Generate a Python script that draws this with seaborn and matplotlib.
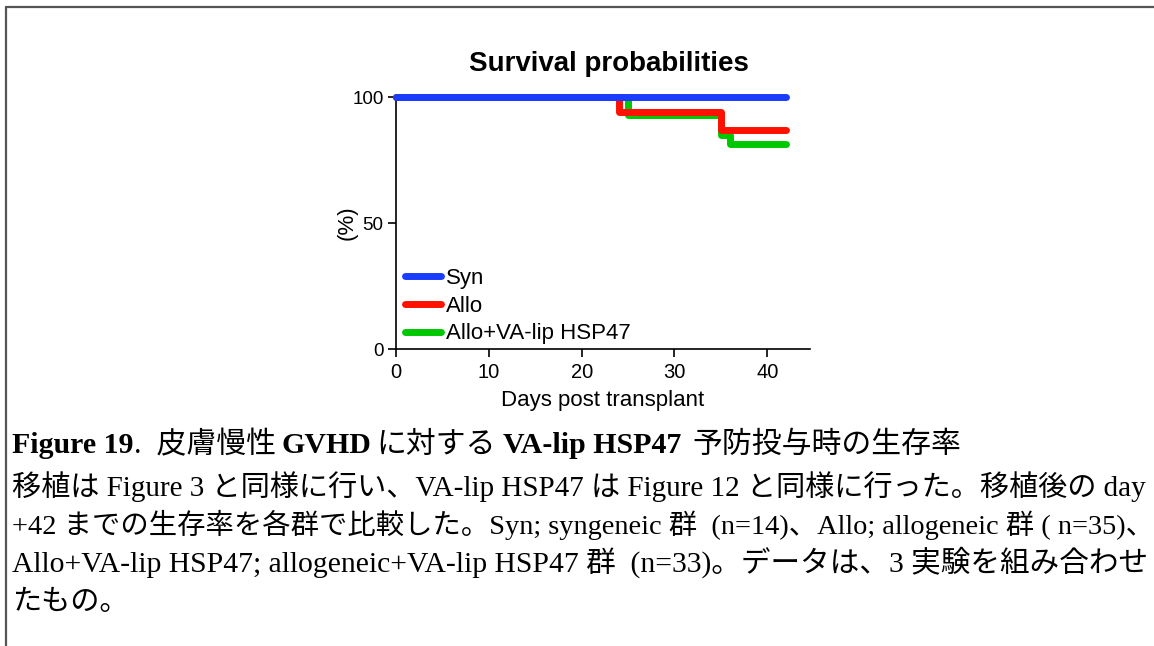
import numpy as np
import pandas as pd
import matplotlib
matplotlib.use("Agg")
import matplotlib.pyplot as plt
from matplotlib.lines import Line2D
import seaborn as sns

# ── data ──
groups = ["Syn", "Allo", "Allo+VA-lip HSP47"]
days_syn = [0, 42]
surv_syn = [100, 100]
days_allo = [0, 24, 35, 42]
surv_allo = [100, 94.0, 87.0, 87.0]
days_va = [0, 25, 35, 36, 42]
surv_va = [100, 93.0, 84.8, 81.5, 81.5]
x_ticks = [0, 10, 20, 30, 40]
y_ticks = [0, 50, 100]

title_text = "Survival probabilities"
x_label = "Days post transplant"
y_label = "(%)"

caption_head = ["Figure 19", ".  皮膚慢性", "GVHD", "に対する", "VA-lip HSP47", "予防投与時の生存率"]
caption_body = [
    "移植は Figure 3 と同様に行い、VA-lip HSP47 は Figure 12 と同様に行った。移植後の day",
    "+42 までの生存率を各群で比較した。Syn; syngeneic 群  (n=14)、Allo; allogeneic 群 ( n=35)、",
    "Allo+VA-lip HSP47; allogeneic+VA-lip HSP47 群  (n=33)。データは、3 実験を組み合わせ",
    "たもの。",
]

colors = ["#1a3cff", "#ff1000", "#00c800"]

sns.set_style("ticks")
plt.rcParams["font.family"] = ["Liberation Sans", "DejaVu Sans"]
plt.rcParams["text.color"] = "black"
plt.rcParams["axes.labelcolor"] = "black"
serif_cjk = ["Liberation Serif", "Noto Sans CJK JP"]

W, H = 1154, 646
fig = plt.figure(figsize=(W / 100, H / 100), dpi=100)

# frame lines (top and left)
fig.add_artist(Line2D([5.5 / W, 1], [1 - 6.5 / H, 1 - 6.5 / H], color="#555555", lw=1.6))
fig.add_artist(Line2D([5.5 / W, 5.5 / W], [0, 1 - 6.5 / H], color="#555555", lw=1.6))

ax = fig.add_axes([396 / W, 1 - 349 / H, 414 / W, 252 / H])

df = pd.concat([
    pd.DataFrame({"day": d, "surv": s, "group": g})
    for d, s, g in zip([days_syn, days_allo, days_va], [surv_syn, surv_allo, surv_va], groups)
], ignore_index=True)

sns.lineplot(data=df, x="day", y="surv", hue="group", hue_order=groups, palette=colors,
             estimator=None, sort=False, drawstyle="steps-post", linewidth=5,
             solid_capstyle="round", legend=False, ax=ax)
for ln, z in zip(ax.lines, [4, 3, 2]):
    ln.set_zorder(z)
    ln.set_clip_on(False)

ax.set_xlim(0, 44.6)
ax.set_ylim(0, 100)
ax.set_xticks(x_ticks)
ax.set_yticks(y_ticks)
sns.despine(ax=ax)
for sp in ["left", "bottom"]:
    ax.spines[sp].set_linewidth(1.2)
    ax.spines[sp].set_color("black")
ax.tick_params(direction="out", length=6, width=1.2, pad=3, colors="black")
ax.tick_params(axis="x", labelsize=14.5, pad=4)
ax.tick_params(axis="y", labelsize=13.5)
ax.set_xlabel(x_label, fontsize=16, labelpad=6)
ax.set_ylabel(y_label, fontsize=16)
ax.yaxis.set_label_coords(-0.092, 0.5)
ax.set_title(title_text, fontsize=20, fontweight="bold", pad=19, x=0.515)

ax.legend(ax.lines, groups, loc="lower left", bbox_to_anchor=(0.022, 0.018), frameon=False,
          fontsize=16, handlelength=1.6, handletextpad=0.25, labelspacing=0.3,
          borderaxespad=0, borderpad=0)

# ── caption under the chart ──
fs_head = 21.5
prev = fig.text(12 / W, 1 - 453 / H, caption_head[0], fontsize=fs_head, fontweight="bold",
                family=serif_cjk, va="baseline")
weights = ["normal", "bold", "normal", "bold", "normal"]
gaps = [0, 4, 4, 5, 8]
for txt, wt, gap in zip(caption_head[1:], weights, gaps):
    prev = ax.annotate(txt, xy=(1, 0), xycoords=prev, xytext=(gap, 0),
                       textcoords="offset points", fontsize=fs_head, fontweight=wt,
                       family=serif_cjk, va="bottom", ha="left", annotation_clip=False)

baselines = [496, 534, 572, 610]
body_sizes = [21, 20.4, 21.3, 21]
for txt, y, s in zip(caption_body, baselines, body_sizes):
    fig.text(12 / W, 1 - y / H, txt, fontsize=s, family=serif_cjk, va="baseline")

plt.savefig("out.png", dpi=100)
